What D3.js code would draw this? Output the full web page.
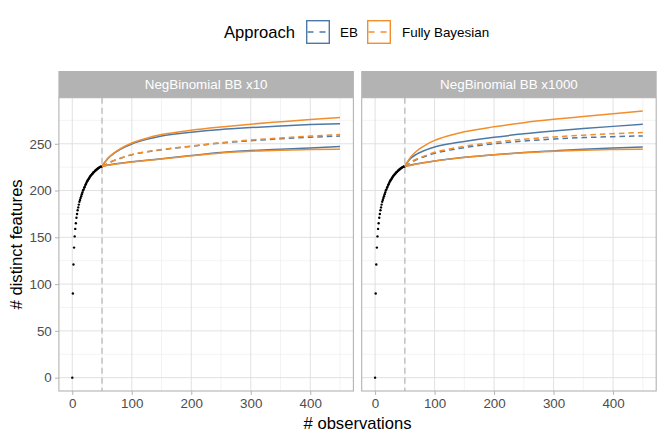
<!DOCTYPE html>
<html>
<head>
<meta charset="utf-8">
<script src="https://cdn.jsdelivr.net/npm/d3@7"></script>
<style>
  body { margin: 0; background: #fff; }
  svg { font-family: "Liberation Sans", Arial, Helvetica, sans-serif; }
</style>
</head>
<body>
<svg id="chart" width="664" height="443"></svg>
<script>
// observed accumulation curve, n = 0..50
const observed = [0, 90, 121, 139, 151, 159, 165, 171, 175, 179, 182, 185, 188, 190, 192,
  194, 196, 198, 200, 201, 203, 204, 206, 207, 208.5, 210, 211, 212, 213, 214, 215, 216,
  216.5, 217.5, 218, 219, 219.5, 220, 221, 221.5, 222, 222.5, 223, 223.5, 224, 224.5,
  225, 225.3, 225.6, 225.8, 226];

// extrapolation grid
const predX = [50, 55, 60, 70, 80, 100, 125, 150, 200, 250, 300, 350, 400, 450];

const panels = ["NegBinomial BB x10", "NegBinomial BB x1000"];
const approaches = ["EB", "Fully Bayesian"];

// panel 1: NegBinomial BB x10
const x10_ebUpper  = [226, 230.5, 234.3, 239.8, 243.8, 249.8, 254.8, 258.4, 262.3, 265.2, 267.3, 269.1, 270.5, 271.5];
const x10_ebMean   = [226, 227.6, 229.3, 232, 234.3, 238.3, 241.4, 243.6, 247.3, 250.8, 253.3, 255.3, 257, 258.3];
const x10_ebLower  = [226, 226.6, 227.3, 228.3, 229.2, 230.7, 232.4, 234, 237.4, 240.6, 242.7, 244.2, 245.6, 247];
const x10_fbUpper  = [226, 230.7, 234.7, 240.3, 244.4, 250.8, 256, 259.8, 264.5, 268, 271, 273.5, 275.9, 278];
const x10_fbMean   = [226, 227.6, 229.3, 232, 234.3, 238.4, 241.5, 243.8, 247.6, 251.2, 254, 256.2, 258.2, 260];
const x10_fbLower  = [226, 226.4, 227, 228, 228.9, 230.4, 232.1, 233.7, 237.2, 240.2, 242, 243.1, 243.8, 244.3];

// panel 2: NegBinomial BB x1000
const x1000_ebUpper = [226, 230.8, 234.5, 239, 242, 246.5, 250, 252.5, 256.9, 260.6, 263.6, 266.2, 268.6, 270.8];
const x1000_ebMean  = [226, 228, 230, 233.2, 235.6, 239.8, 243.2, 245.9, 250, 252.9, 255, 256.6, 257.6, 258.4];
const x1000_ebLower = [226, 226.6, 227.3, 228.6, 229.7, 231.7, 233.8, 235.6, 238.4, 240.6, 242.4, 244.1, 245.5, 246.6];
const x1000_fbUpper = [226, 231.5, 236, 242.3, 246.8, 253.6, 258.8, 262.8, 268.2, 272.6, 276.1, 279.1, 282.1, 285];
const x1000_fbMean  = [226, 228, 230.3, 233.7, 236.3, 240.9, 244.4, 247.3, 251.7, 254.8, 257.3, 259.2, 260.8, 262];
const x1000_fbLower = [226, 226.4, 227, 228.4, 229.5, 231.5, 233.6, 235.4, 238.2, 240.4, 241.9, 243.1, 243.8, 244.1];

const xTicks = [0, 100, 200, 300, 400];
const xMinor = [50, 150, 250, 350, 450];
const yTicks = [0, 50, 100, 150, 200, 250];
const yMinor = [25, 75, 125, 175, 225, 275];
const cutoff = 50;

const colors = { "EB": "#4E79A7", "Fully Bayesian": "#F28E2B" };

const panelSeries = [
  [
    { approach: "EB", kind: "upper", values: x10_ebUpper },
    { approach: "EB", kind: "lower", values: x10_ebLower },
    { approach: "EB", kind: "mean", values: x10_ebMean },
    { approach: "Fully Bayesian", kind: "upper", values: x10_fbUpper },
    { approach: "Fully Bayesian", kind: "lower", values: x10_fbLower },
    { approach: "Fully Bayesian", kind: "mean", values: x10_fbMean }
  ],
  [
    { approach: "EB", kind: "upper", values: x1000_ebUpper },
    { approach: "EB", kind: "lower", values: x1000_ebLower },
    { approach: "EB", kind: "mean", values: x1000_ebMean },
    { approach: "Fully Bayesian", kind: "upper", values: x1000_fbUpper },
    { approach: "Fully Bayesian", kind: "lower", values: x1000_fbLower },
    { approach: "Fully Bayesian", kind: "mean", values: x1000_fbMean }
  ]
];

const svg = d3.select("#chart");

const panelW = 294.5;
const panelTop = 97.7;
const panelBottom = 391;
const stripH = 26.7;
const panelLeft = [58.9, 361.7];
const smallFont = "13.4px";
const bigFont = "16.6px";

const x = d3.scaleLinear().domain([-22.5, 472.5]).range([0, panelW]);
const y = d3.scaleLinear().domain([-14.25, 299.25]).range([panelBottom, panelTop]);

const line = d3.line()
  .x(d => x(d[0]))
  .y(d => y(d[1]))
  .curve(d3.curveMonotoneX);

panels.forEach((name, i) => {
  const g = svg.append("g").attr("transform", `translate(${panelLeft[i]},0)`);

  // grid
  g.selectAll(".ymin").data(yMinor).enter().append("line")
    .attr("x1", 0).attr("x2", panelW)
    .attr("y1", d => y(d)).attr("y2", d => y(d))
    .attr("stroke", "#EBEBEB").attr("stroke-width", 0.6);
  g.selectAll(".xmin").data(xMinor).enter().append("line")
    .attr("y1", panelTop).attr("y2", panelBottom)
    .attr("x1", d => x(d)).attr("x2", d => x(d))
    .attr("stroke", "#EBEBEB").attr("stroke-width", 0.6);
  g.selectAll(".ymaj").data(yTicks).enter().append("line")
    .attr("x1", 0).attr("x2", panelW)
    .attr("y1", d => y(d)).attr("y2", d => y(d))
    .attr("stroke", "#DEDEDE").attr("stroke-width", 0.9);
  g.selectAll(".xmaj").data(xTicks).enter().append("line")
    .attr("y1", panelTop).attr("y2", panelBottom)
    .attr("x1", d => x(d)).attr("x2", d => x(d))
    .attr("stroke", "#DEDEDE").attr("stroke-width", 0.9);

  // cutoff
  g.append("line")
    .attr("x1", x(cutoff)).attr("x2", x(cutoff))
    .attr("y1", panelTop).attr("y2", panelBottom)
    .attr("stroke", "#BEBEBE").attr("stroke-width", 1.4)
    .attr("stroke-dasharray", "6,4");

  // observed points
  g.selectAll(".obs").data(observed).enter().append("circle")
    .attr("cx", (d, k) => x(k))
    .attr("cy", d => y(d))
    .attr("r", 1.2)
    .attr("fill", "#000");

  // extrapolation lines
  panelSeries[i].forEach(s => {
    g.append("path")
      .datum(predX.map((px, k) => [px, s.values[k]]))
      .attr("d", line)
      .attr("fill", "none")
      .attr("stroke", colors[s.approach])
      .attr("stroke-width", 1.5)
      .attr("stroke-dasharray", s.kind === "mean" ? "5.5,4" : null);
  });

  // border
  g.append("rect")
    .attr("x", 0).attr("y", panelTop)
    .attr("width", panelW).attr("height", panelBottom - panelTop)
    .attr("fill", "none").attr("stroke", "#B3B3B3").attr("stroke-width", 1.1);

  // strip
  g.append("rect")
    .attr("x", -0.5).attr("y", panelTop - stripH)
    .attr("width", panelW + 1).attr("height", stripH)
    .attr("fill", "#B3B3B3");
  g.append("text")
    .attr("x", panelW / 2).attr("y", panelTop - stripH / 2 + 4.8)
    .attr("text-anchor", "middle")
    .attr("fill", "#fff").attr("font-size", smallFont)
    .text(name);

  // x axis
  const xa = g.append("g")
    .attr("transform", `translate(0,${panelBottom})`)
    .call(d3.axisBottom(x).tickValues(xTicks).tickSize(3.9).tickPadding(3.2));
  xa.select(".domain").remove();
  xa.selectAll("line").attr("stroke", "#B3B3B3").attr("stroke-width", 1);
  xa.selectAll("text").attr("fill", "#4D4D4D").attr("font-size", smallFont);
  xa.attr("font-family", null);

  if (i === 0) {
    const ya = g.append("g")
      .call(d3.axisLeft(y).tickValues(yTicks).tickSize(3.9).tickPadding(3.2));
    ya.select(".domain").remove();
    ya.selectAll("line").attr("stroke", "#B3B3B3").attr("stroke-width", 1);
    ya.selectAll("text").attr("fill", "#4D4D4D").attr("font-size", smallFont);
    ya.attr("font-family", null);
  }
});

// axis titles
svg.append("text")
  .attr("x", (panelLeft[0] + panelLeft[1] + panelW) / 2)
  .attr("y", 428.5)
  .attr("text-anchor", "middle")
  .attr("font-size", bigFont)
  .attr("fill", "#000")
  .text("# observations");

svg.append("text")
  .attr("transform", `translate(21.5,${(panelTop + panelBottom) / 2}) rotate(-90)`)
  .attr("text-anchor", "middle")
  .attr("font-size", bigFont)
  .attr("fill", "#000")
  .text("# distinct features");

// legend
const legend = svg.append("g");
legend.append("text")
  .attr("x", 224).attr("y", 37.8)
  .attr("font-size", bigFont).attr("fill", "#000")
  .text("Approach");

const keyX = [306, 367];
const labelX = [340, 402];
approaches.forEach((a, i) => {
  legend.append("rect")
    .attr("x", keyX[i] + 0.7).attr("y", 20.7)
    .attr("width", 22.6).attr("height", 22.6)
    .attr("fill", "#fff")
    .attr("stroke", colors[a]).attr("stroke-width", 1.4);
  legend.append("line")
    .attr("x1", keyX[i] + 1.5).attr("x2", keyX[i] + 22.5)
    .attr("y1", 32).attr("y2", 32)
    .attr("stroke", colors[a]).attr("stroke-width", 1.5)
    .attr("stroke-dasharray", "6,6");
  legend.append("text")
    .attr("x", labelX[i]).attr("y", 36.8)
    .attr("font-size", smallFont).attr("fill", "#000")
    .text(a);
});
</script>
</body>
</html>
